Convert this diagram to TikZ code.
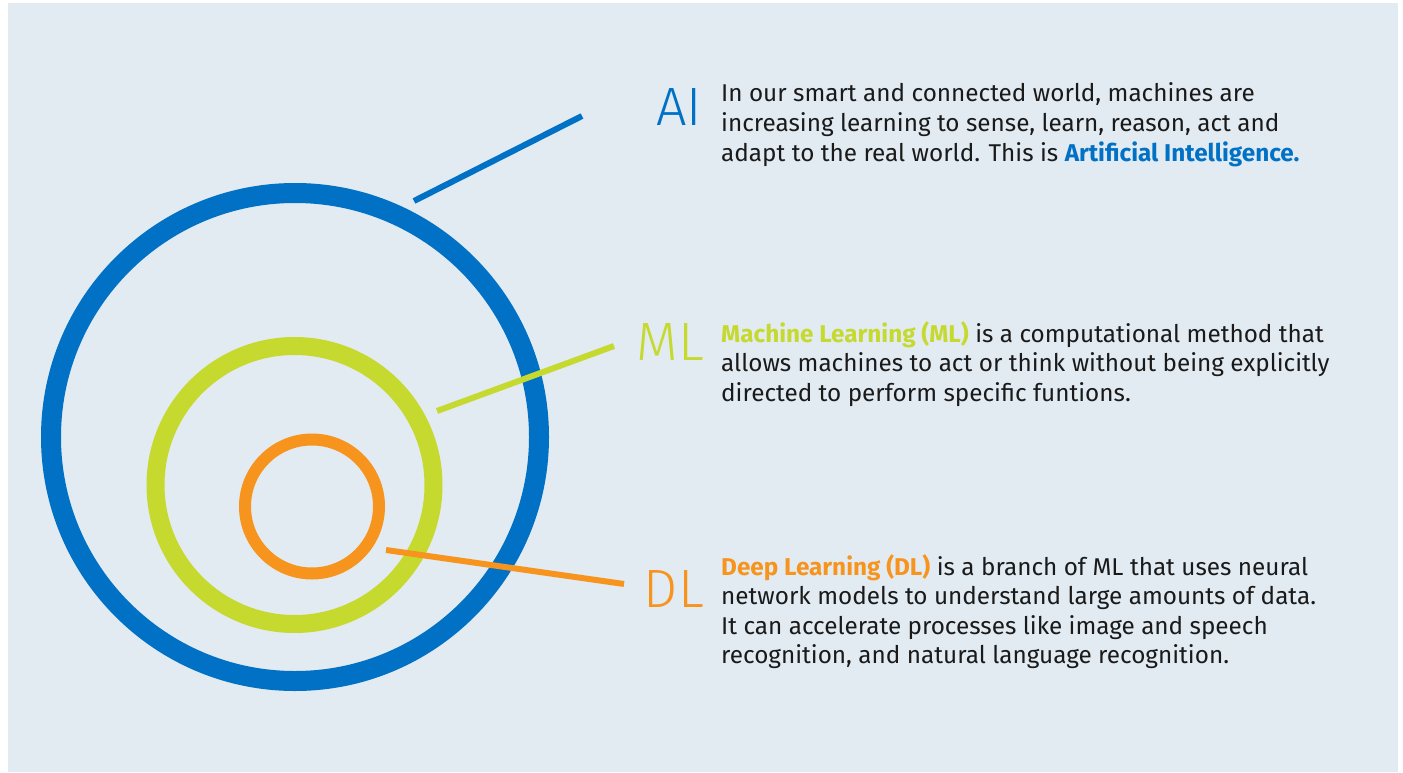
\documentclass[tikz,border=0pt]{standalone}
\usepackage{fontspec}
\setmainfont{Fira Sans}
\newfontfamily\lightfont{Fira Sans Light}
\definecolor{bgc}{HTML}{E2EBF2}
\definecolor{aiblue}{HTML}{0071C5}
\definecolor{mlgreen}{HTML}{C6D92E}
\definecolor{dlorange}{HTML}{F7941E}
\definecolor{txt}{HTML}{1A1A1A}
\tikzset{
  ring/.style={circle, draw=#1, inner sep=0pt, outer sep=0pt},
  lead/.style={draw=#1, line width=6pt},
  biglabel/.style={text=#1, anchor=base east, inner sep=0pt, font=\lightfont\fontsize{54}{54}\selectfont},
  para/.style={text=txt, anchor=base west, align=left, inner sep=0pt, font=\fontsize{24.3}{29.5}\selectfont}
}
\begin{document}
\begin{tikzpicture}[x=1pt,y=-1pt]
\useasboundingbox (0,0) rectangle (1403,773);
\fill[white] (0,0) rectangle (1403,773);
\fill[bgc] (8,3) rectangle (1398,772);
% rings
\node[ring=aiblue, line width=20pt, minimum size=488pt] (aic) at (295,437) {};
\node[ring=mlgreen, line width=18pt, minimum size=278pt] (mlc) at (294.5,485) {};
\node[ring=dlorange, line width=12pt, minimum size=134pt] (dlc) at (312,506.5) {};
% leader coordinates
\coordinate (aiS) at (414,201);
\coordinate (aiE) at (582,116);
\coordinate (mlS) at (437,411);
\coordinate (mlE) at (614,346);
\coordinate (dlS) at (386,550);
\coordinate (dlE) at (624,584);
\draw[lead=aiblue] (aiS) -- (aiE);
\draw[lead=mlgreen] (mlS) -- (mlE);
\draw[lead=dlorange] (dlS) -- (dlE);
% labels
\node[biglabel=aiblue] (ail) at (702,126) {AI};
\node[biglabel=mlgreen] (mll) at (704,360) {ML};
\node[biglabel=dlorange] (dll) at (704,607) {DL};
% paragraphs (anchored at baseline of last line)
\node[para] (ait) at (721,161) {In our smart and connected world, machines are\\increasing learning to sense, learn, reason, act and\\adapt to the real world. This is \textcolor{aiblue}{\bfseries Artificial Intelligence.}};
\node[para] (mlt) at (721,401) {\textcolor{mlgreen}{\bfseries Machine Learning (ML)} is a computational method that\\allows machines to act or think without being explicitly\\directed to perform specific funtions.};
\node[para] (dlt) at (721,663.5) {\textcolor{dlorange}{\bfseries Deep Learning (DL)} is a branch of ML that uses neural\\network models to understand large amounts of data.\\It can accelerate processes like image and speech\\recognition, and natural language recognition.};
\end{tikzpicture}
\end{document}
